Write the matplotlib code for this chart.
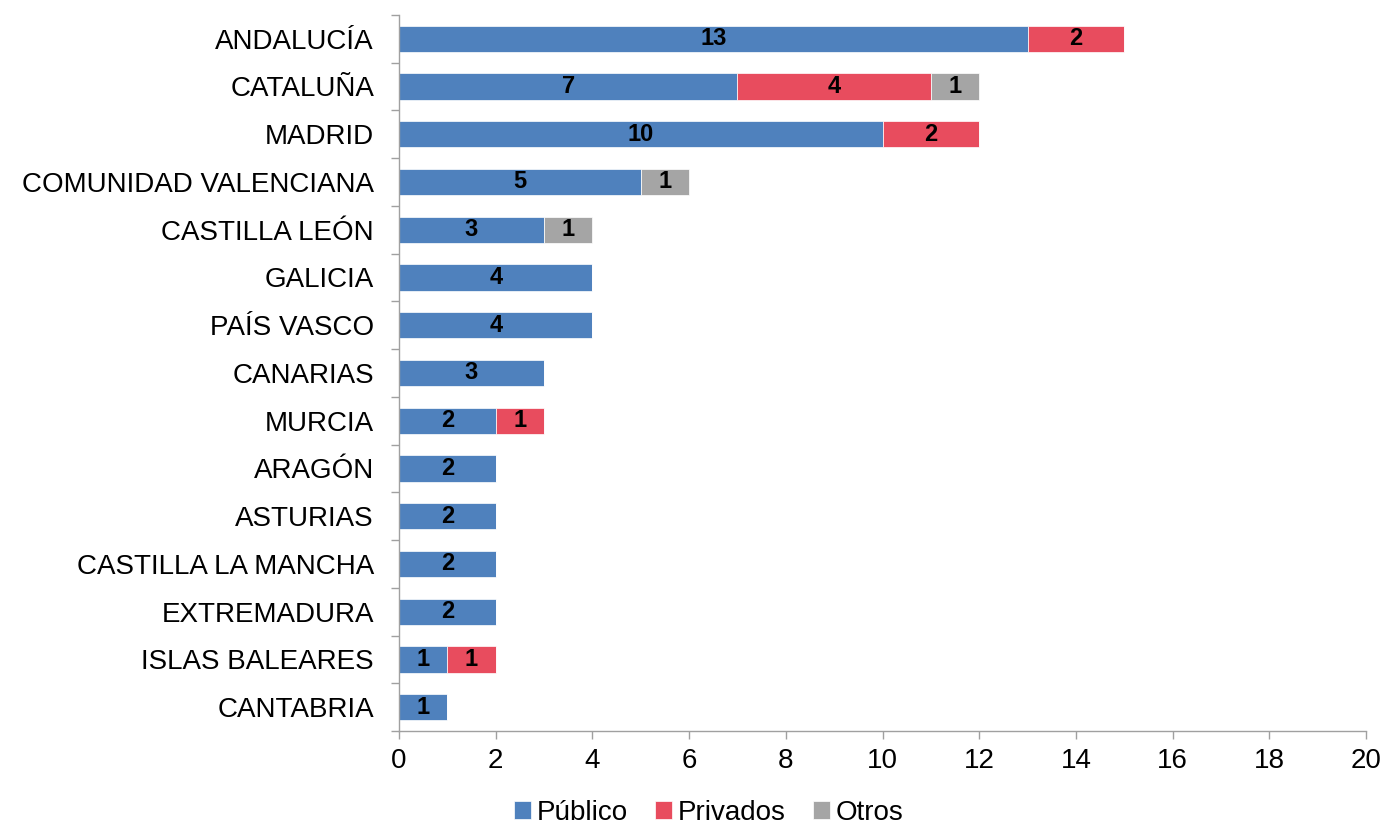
import matplotlib
matplotlib.use("Agg")
import matplotlib.pyplot as plt
import numpy as np

plt.rcParams['font.family'] = ['Liberation Sans', 'DejaVu Sans']

categories = ["ANDALUCÍA", "CATALUÑA", "MADRID", "COMUNIDAD VALENCIANA", "CASTILLA LEÓN",
              "GALICIA", "PAÍS VASCO", "CANARIAS", "MURCIA", "ARAGÓN", "ASTURIAS",
              "CASTILLA LA MANCHA", "EXTREMADURA", "ISLAS BALEARES", "CANTABRIA"]
publico = [13, 7, 10, 5, 3, 4, 4, 3, 2, 2, 2, 2, 2, 1, 1]
privados = [2, 4, 2, 0, 0, 0, 0, 0, 1, 0, 0, 0, 0, 1, 0]
otros = [0, 1, 0, 1, 1, 0, 0, 0, 0, 0, 0, 0, 0, 0, 0]
series_names = ["Público", "Privados", "Otros"]
colors = ["#4F81BD", "#E84C5E", "#A5A5A5"]

fig = plt.figure(figsize=(13.84, 8.26), dpi=100)
ax = fig.add_axes([0.2883, 0.115, 0.6987, 0.867])

y = np.arange(len(categories))
left = np.zeros(len(categories))
for vals, name, col in zip([publico, privados, otros], series_names, colors):
    vals = np.array(vals, dtype=float)
    ax.barh(y, vals, left=left, height=0.55, color=col, label=name,
            edgecolor='white', linewidth=0.5)
    for yi, (l, v) in enumerate(zip(left, vals)):
        if v > 0:
            ax.text(l + v / 2, yi, f"{int(v)}", ha='center', va='center',
                    fontsize=17, fontweight='bold', color='black')
    left += vals

ax.set_ylim(len(categories) - 0.5, -0.5)
ax.set_xlim(0, 20)
ax.set_xticks(np.arange(0, 21, 2))
ax.set_yticks(y)
ax.set_yticklabels(categories, fontsize=20)
ax.set_yticks(np.arange(-0.5, len(categories), 1), minor=True)
ax.tick_params(axis='y', which='major', length=0, pad=18)
ax.tick_params(axis='y', which='minor', length=6, color='#A0A0A0', width=1)
ax.tick_params(axis='x', length=6, color='#A0A0A0', width=1, labelsize=20, pad=6)
for s in ['top', 'right']:
    ax.spines[s].set_visible(False)
for s in ['left', 'bottom']:
    ax.spines[s].set_color('#A0A0A0')
    ax.spines[s].set_linewidth(1)

fig.legend(loc='center', bbox_to_anchor=(0.512, 0.016), ncol=3, frameon=False,
           fontsize=20, handlelength=0.6, handleheight=0.6, handletextpad=0.2,
           columnspacing=1.0, borderpad=0)

fig.savefig("out.png", dpi=100)
